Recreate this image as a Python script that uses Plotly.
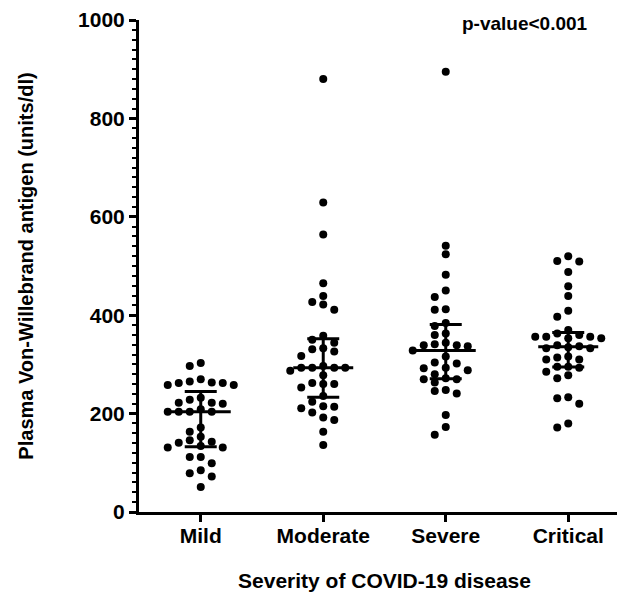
import numpy as np
import plotly.graph_objects as go

categories = ["Mild", "Moderate", "Severe", "Critical"]

mild = [303, 297, 270, 265, 263, 262, 262, 258, 258, 232, 228, 222, 222, 220, 209,
        204, 204, 204, 204, 172, 163, 153, 146, 143, 141, 134, 131, 131, 112, 112,
        99, 85, 79, 72, 51]
moderate = [880, 629, 564, 465, 439, 427, 422, 411, 358, 350, 344, 333, 331, 326, 317,
            297, 293, 293, 293, 293, 287, 278, 262, 260, 260, 253, 236, 224, 215, 214,
            211, 202, 192, 187, 163, 136]
severe = [895, 541, 524, 482, 450, 437, 412, 411, 384, 378, 363, 360, 344, 341, 339,
          339, 337, 328, 316, 304, 302, 293, 292, 288, 280, 272, 270, 270, 263, 248,
          246, 241, 197, 173, 157]
critical = [520, 510, 509, 488, 459, 439, 409, 397, 370, 363, 360, 356, 356, 356, 353,
            353, 339, 337, 335, 333, 333, 316, 314, 310, 310, 295, 295, 293, 285, 278,
            272, 233, 231, 220, 180, 172]

groups = [mild, moderate, severe, critical]

# layout geometry (px, figure coordinates; page adds ~8px offset)
W, H = 625, 598
ML, MR, MT, MB = 131, 3, 12, 94
XMIN = -0.504
PX_PER_CAT = 122.5
XMAX = XMIN + (W - ML - MR) / PX_PER_CAT
YMAX = 1000
px_per_x = (W - ML - MR) / (XMAX - XMIN)
px_per_y = (H - MT - MB) / YMAX

DOT = 8
STEP_PX = 11.0
MIN_DIST = 8.0


def swarm(vals):
    order = np.argsort(vals)[::-1]
    placed = []
    offs = np.zeros(len(vals))
    cands = [0]
    for j in range(1, 10):
        cands += [-j, j]
    for i in order:
        y = vals[i] * px_per_y
        for c in cands:
            x = c * STEP_PX
            if all((px - x) ** 2 + (py - y) ** 2 >= MIN_DIST ** 2 for px, py in placed):
                placed.append((x, y))
                offs[i] = x / px_per_x
                break
    return offs


fig = go.Figure()
for gi, vals in enumerate(groups):
    vals = np.array(vals, dtype=float)
    offs = swarm(vals)
    fig.add_trace(go.Scatter(x=gi + offs, y=vals, mode="markers",
                             marker=dict(size=DOT, color="black"),
                             showlegend=False, hoverinfo="y"))
    q1, med, q3 = np.percentile(vals, [25, 50, 75])
    wm = 30 / px_per_x
    wq = 16 / px_per_x
    line = dict(color="black", width=3)
    fig.add_trace(go.Scatter(x=[gi - wm, gi + wm], y=[med, med], mode="lines",
                             line=line, showlegend=False, hoverinfo="skip"))
    fig.add_trace(go.Scatter(x=[gi - wq, gi + wq], y=[q3, q3], mode="lines",
                             line=line, showlegend=False, hoverinfo="skip"))
    fig.add_trace(go.Scatter(x=[gi - wq, gi + wq], y=[q1, q1], mode="lines",
                             line=line, showlegend=False, hoverinfo="skip"))
    fig.add_trace(go.Scatter(x=[gi, gi], y=[q1, q3], mode="lines",
                             line=line, showlegend=False, hoverinfo="skip"))

bold = dict(family="Liberation Sans, Arial, sans-serif", color="black", weight="bold")

fig.update_layout(
    width=W, height=H,
    margin=dict(l=ML, r=MR, t=MT, b=MB),
    plot_bgcolor="white", paper_bgcolor="white",
    xaxis=dict(range=[XMIN, XMAX], tickvals=[0, 1, 2, 3], ticktext=categories,
               automargin=False, ticklabelstandoff=-4,
               showline=True, linecolor="black", linewidth=3, showgrid=False,
               zeroline=False, ticks="outside", ticklen=7, tickwidth=2.5,
               tickcolor="black", tickfont=dict(size=21, **bold),
               title=dict(text="Severity of COVID-19 disease", font=dict(size=21, **bold),
                          standoff=28)),
    yaxis=dict(range=[0, YMAX], tickvals=[0, 200, 400, 600, 800, 1000],
               automargin=False,
               showline=True, linecolor="black", linewidth=3, showgrid=False,
               zeroline=False, ticks="outside", ticklen=7, tickwidth=2.5,
               tickcolor="black", tickfont=dict(size=21, **bold),
               minor=dict(dtick=20, ticks="outside", ticklen=4, tickwidth=1.5,
                          tickcolor="black", showgrid=False),
               title=dict(text="Plasma Von-Willebrand antigen (units/dl)",
                          font=dict(size=20, **bold), standoff=40)),
    annotations=[dict(text="p-value<0.001", xref="paper", yref="paper",
                      x=(582 - ML) / (W - ML - MR), y=1.0 - 3 / (H - MT - MB),
                      xanchor="right", yanchor="middle", showarrow=False,
                      font=dict(size=19, **bold))],
)

fig.write_html("out.html")
